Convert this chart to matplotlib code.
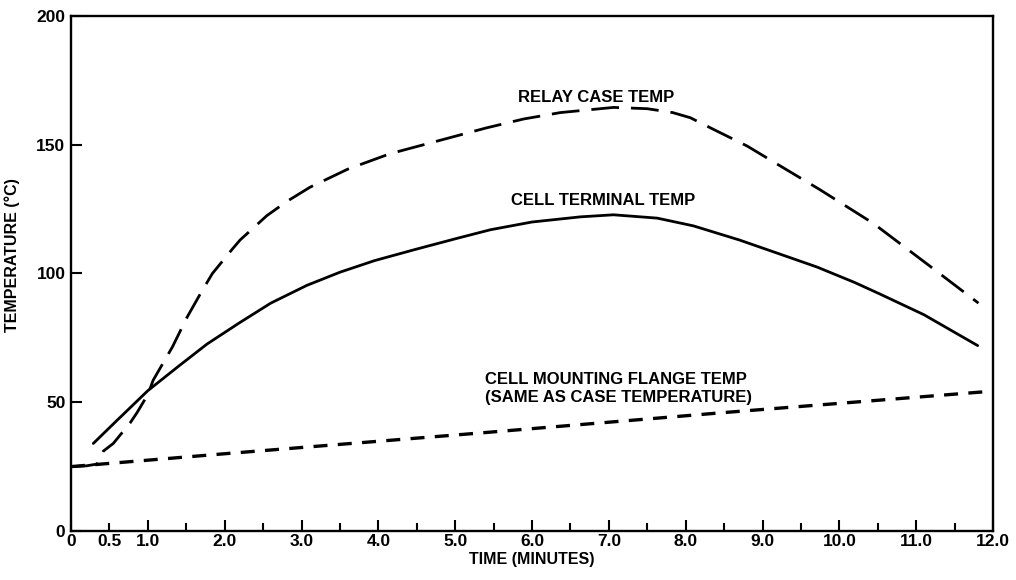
import matplotlib
matplotlib.use("Agg")
import matplotlib.pyplot as plt

plt.rcParams["font.family"] = ["Liberation Sans", "DejaVu Sans"]
plt.rcParams["font.weight"] = "bold"

# values (time in minutes, temperature in degC)
terminal_t = [0.29, 0.6, 1.0, 1.4, 1.77, 2.2, 2.6, 3.07, 3.5, 3.95, 4.5, 5.03, 5.46,
              6.0, 6.63, 7.06, 7.63, 8.1, 8.7, 9.23, 9.71, 10.2, 10.53, 11.1, 11.8]
terminal_temp = [34, 43, 54.5, 64, 72.6, 81, 88.5, 95.4, 100.5, 105, 109.5, 113.7, 117,
                 120, 122, 122.8, 121.5, 118.5, 113, 107.5, 102.5, 96.5, 92, 84, 72]

relay_t = [0.0, 0.2, 0.34, 0.42, 0.55, 0.66, 0.77, 0.86, 1.0, 1.07, 1.32, 1.51, 1.7,
           1.84, 2.1, 2.2, 2.55, 2.81, 3.11, 3.6, 4.15, 4.9, 5.4, 5.89, 6.37, 7.06,
           7.5, 7.83, 8.06, 8.36, 8.8, 9.19, 9.75, 10.44, 11.15, 11.81]
relay_temp = [25, 25.3, 26, 31, 34, 38, 42, 46, 53, 58.6, 71.5, 83, 93,
              100, 109.5, 113, 122.5, 128, 133.5, 140.5, 146.5, 152.5, 156.5, 160, 162.5, 164.5,
              164, 162.5, 160.5, 156, 149.5, 142.5, 132.5, 119.5, 103.5, 88.5]

flange_t = [0.0, 2.0, 5.3, 8.5, 11.86]
flange_temp = [25, 30, 38, 46, 54]

x_major = [0, 1, 2, 3, 4, 5, 6, 7, 8, 9, 10, 11, 12]
x_major_labels = ["0", "1.0", "2.0", "3.0", "4.0", "5.0", "6.0", "7.0",
                  "8.0", "9.0", "10.0", "11.0", "12.0"]
x_minor = [0.5, 1.5, 2.5, 3.5, 4.5, 5.5, 6.5, 7.5, 8.5, 9.5, 10.5, 11.5]
x_minor_labels = ["0.5"] + [""] * 11
y_ticks = [0, 50, 100, 150, 200]

fig = plt.figure(figsize=(10.16, 5.8), dpi=100)
ax = fig.add_axes([0.0699, 0.0845, 0.9075, 0.8879])

ax.plot(terminal_t, terminal_temp, color="black", lw=2.0, solid_capstyle="round",
        solid_joinstyle="round")
ax.plot(relay_t, relay_temp, color="black", lw=2.0, dashes=(10, 4.3))
ax.plot(flange_t, flange_temp, color="black", lw=2.4, dashes=(4.2, 3.1))

ax.text(6.84, 168.5, "RELAY CASE TEMP", ha="center", va="center", fontsize=12, fontweight="bold")
ax.text(6.93, 128.5, "CELL TERMINAL TEMP", ha="center", va="center", fontsize=12, fontweight="bold")
ax.text(5.39, 55.5, "CELL MOUNTING FLANGE TEMP\n(SAME AS CASE TEMPERATURE)", ha="left",
        va="center", fontsize=12, fontweight="bold", linespacing=1.25)

ax.set_xlim(0, 12)
ax.set_ylim(0, 200)
ax.set_xticks(x_major, x_major_labels)
ax.set_xticks(x_minor, x_minor_labels, minor=True)
ax.set_yticks(y_ticks, [str(v) for v in y_ticks])

ax.tick_params(axis="both", which="major", direction="in", length=8, width=1.5,
               labelsize=12.5, pad=2)
ax.tick_params(axis="x", which="minor", direction="in", length=5.5, width=1.5,
               labelsize=12.5, pad=2)
ax.tick_params(axis="y", which="major", pad=4)
for lab in ax.get_xticklabels() + ax.get_yticklabels() + ax.get_xticklabels(minor=True):
    lab.set_fontweight("bold")

for s in ax.spines.values():
    s.set_linewidth(1.7)

ax.set_xlabel("TIME (MINUTES)", fontsize=11.5, fontweight="bold", labelpad=2)
ax.set_ylabel("TEMPERATURE (°C)", fontsize=11.5, fontweight="bold")
ax.yaxis.set_label_coords(-0.055, 0.536)

fig.savefig("out.png", dpi=100, facecolor="white")
